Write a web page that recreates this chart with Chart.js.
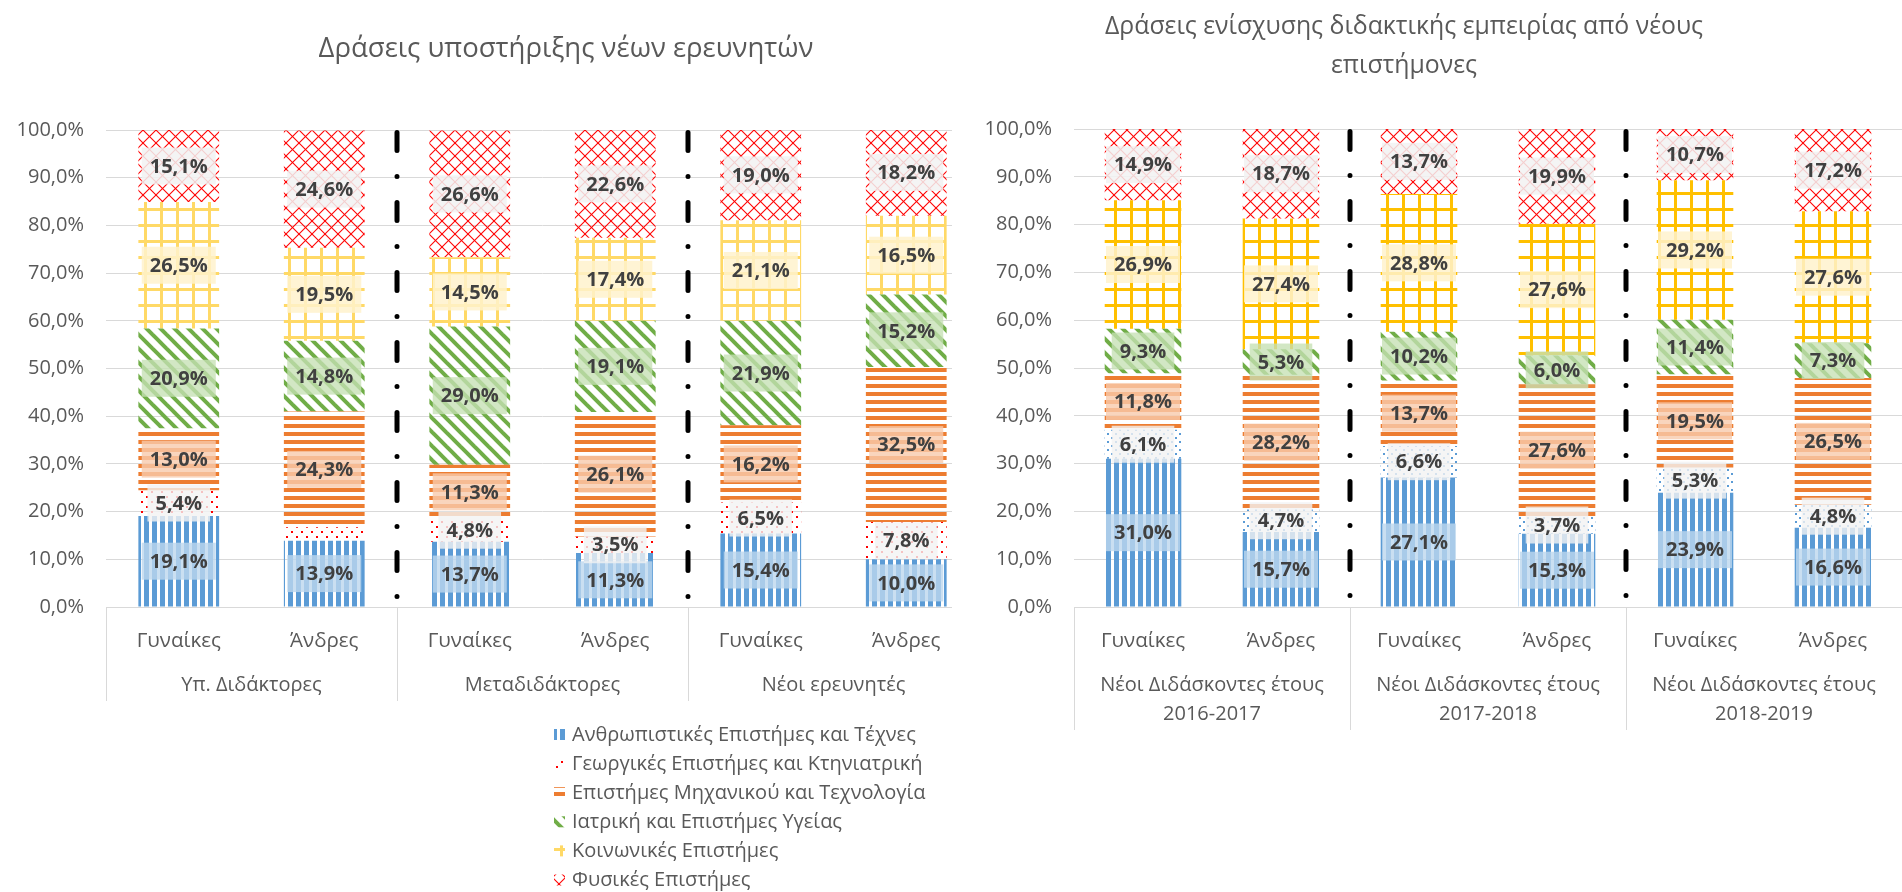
<!DOCTYPE html>
<html>
<head>
<meta charset="utf-8">
<script src="https://cdn.jsdelivr.net/npm/chart.js@4.4.1/dist/chart.umd.min.js"></script>
<style>
  html, body { margin: 0; padding: 0; background: #fff; }
  #wrap { position: relative; width: 1902px; height: 892px; overflow: hidden; background: #fff; }
  #left { position: absolute; left: 0; top: 0; }
  #right { position: absolute; left: 906px; top: 0; z-index: 1; }
</style>
</head>
<body>
<div id="wrap">
  <canvas id="left" width="1132" height="892"></canvas>
  <canvas id="right" width="996" height="892"></canvas>
</div>
<script>
const SERIES = [
  'Ανθρωπιστικές Επιστήμες και Τέχνες',
  'Γεωργικές Επιστήμες και Κτηνιατρική',
  'Επιστήμες Μηχανικού και Τεχνολογία',
  'Ιατρική και Επιστήμες Υγείας',
  'Κοινωνικές Επιστήμες',
  'Φυσικές Επιστήμες',
]
const GENDERS = ['Γυναίκες', 'Άνδρες', 'Γυναίκες', 'Άνδρες', 'Γυναίκες', 'Άνδρες']

const LEFT_TITLE = 'Δράσεις υποστήριξης νέων ερευνητών'
const LEFT_GROUPS = [['Υπ. Διδάκτορες'], ['Μεταδιδάκτορες'], ['Νέοι ερευνητές']]
const LEFT_HUM = [19.1, 13.9, 13.7, 11.3, 15.4, 10.0]
const LEFT_AGR = [5.4, 2.8, 4.8, 3.5, 6.5, 7.8]
const LEFT_ENG = [13.0, 24.3, 11.3, 26.1, 16.2, 32.5]
const LEFT_MED = [20.9, 14.8, 29.0, 19.1, 21.9, 15.2]
const LEFT_SOC = [26.5, 19.5, 14.5, 17.4, 21.1, 16.5]
const LEFT_NAT = [15.1, 24.6, 26.6, 22.6, 19.0, 18.2]

const RIGHT_TITLE = ['Δράσεις ενίσχυσης διδακτικής εμπειρίας από νέους', 'επιστήμονες']
const RIGHT_GROUPS = [
  ['Νέοι Διδάσκοντες έτους', '2016-2017'],
  ['Νέοι Διδάσκοντες έτους', '2017-2018'],
  ['Νέοι Διδάσκοντες έτους', '2018-2019'],
]
const RIGHT_HUM = [31.0, 15.7, 27.1, 15.3, 23.9, 16.6]
const RIGHT_AGR = [6.1, 4.7, 6.6, 3.7, 5.3, 4.8]
const RIGHT_ENG = [11.8, 28.2, 13.7, 27.6, 19.5, 26.5]
const RIGHT_MED = [9.3, 5.3, 10.2, 6.0, 11.4, 7.3]
const RIGHT_SOC = [26.9, 27.4, 28.8, 27.6, 29.2, 27.6]
const RIGHT_NAT = [14.9, 18.7, 13.7, 19.9, 10.7, 17.2]

const FONT = "'Open Sans', 'Noto Sans', sans-serif"
const TEXT = '#595959'
const LABEL_TEXT = '#404040'
const GRID = '#D9D9D9'

const BLUE = '#5B9BD5'
const RED = '#FF0000'
const ORANGE = '#ED7D31'
const GREEN = '#70AD47'

// label boxes behind the values, one tint per series
const BOXES = [
  'rgba(189, 215, 238, 0.8)',
  'rgba(242, 242, 242, 0.8)',
  'rgba(248, 203, 173, 0.8)',
  'rgba(197, 224, 180, 0.78)',
  'rgba(255, 242, 204, 0.85)',
  'rgba(242, 242, 242, 0.85)',
]

Chart.defaults.font.family = FONT
Chart.defaults.color = TEXT

function tile(w, h, draw) {
  const c = document.createElement('canvas')
  c.width = w
  c.height = h
  draw(c.getContext('2d'), w, h)
  return c
}

const tiles = {
  vert: (color) => tile(8, 8, (g) => { g.fillStyle = color; g.fillRect(0, 0, 5, 8) }),
  horiz: (color) => tile(8, 8, (g) => { g.fillStyle = color; g.fillRect(0, 0, 8, 4) }),
  dots: (color, n) => tile(n, n, (g) => {
    g.fillStyle = color
    g.fillRect(1, 1, 2, 2)
    g.fillRect(1 + n / 2, 1 + n / 2, 2, 2)
  }),
  diag: (color) => tile(14, 14, (g) => {
    g.strokeStyle = color
    g.lineWidth = 4
    for (const dx of [-14, 0, 14]) {
      g.beginPath(); g.moveTo(dx - 2, -2); g.lineTo(dx + 16, 16); g.stroke()
    }
  }),
  grid: (color) => tile(16, 16, (g) => {
    g.fillStyle = color
    g.fillRect(0, 0, 16, 3)
    g.fillRect(0, 0, 3, 16)
  }),
  diamond: (color) => tile(13, 13, (g) => {
    g.strokeStyle = color
    g.lineWidth = 1.1
    for (const dx of [-13, 0, 13]) {
      g.beginPath(); g.moveTo(dx, 0); g.lineTo(dx + 13, 13); g.stroke()
      g.beginPath(); g.moveTo(dx + 13, 0); g.lineTo(dx, 13); g.stroke()
    }
  }),
}

function fmt(v) {
  return v.toFixed(1).replace('.', ',') + '%'
}

const valueLabels = {
  id: 'valueLabels',
  afterDatasetsDraw(chart, args, opts) {
    const ctx = chart.ctx
    ctx.save()
    ctx.font = `bold ${opts.size}px ${FONT}`
    ctx.textAlign = 'center'
    ctx.textBaseline = 'middle'
    chart.data.datasets.forEach((ds, i) => {
      chart.getDatasetMeta(i).data.forEach((bar, j) => {
        const v = ds.data[j]
        if (v < opts.minValue) return
        const { x, y, base } = bar.getProps(['x', 'y', 'base'], true)
        const cy = (y + base) / 2
        const text = fmt(v)
        const w = ctx.measureText(text).width + 16
        ctx.fillStyle = ds.labelBox
        ctx.fillRect(x - w / 2, cy - 18.5, w, 37)
        ctx.fillStyle = LABEL_TEXT
        ctx.fillText(text, x, cy + 1)
      })
    })
    ctx.restore()
  },
}

// dash-dot separators between the groups, inside the plot
const groupSeparators = {
  id: 'groupSeparators',
  afterDatasetsDraw(chart) {
    const x = chart.scales.x
    const area = chart.chartArea
    const ctx = chart.ctx
    const half = (x.getPixelForValue(1) - x.getPixelForValue(0)) / 2
    ctx.save()
    ctx.strokeStyle = '#000'
    ctx.lineWidth = 5
    ctx.lineCap = 'round'
    ctx.setLineDash([18, 26, 0, 26])
    for (let i = 2; i < chart.data.labels.length; i += 2) {
      const px = x.getPixelForValue(i) - half
      ctx.beginPath()
      ctx.moveTo(px, area.top + 2.5)
      ctx.lineTo(px, area.bottom)
      ctx.stroke()
    }
    ctx.restore()
  },
}

// second level of the category axis: group names in boxes
const groupAxis = {
  id: 'groupAxis',
  afterDraw(chart, args, opts) {
    const x = chart.scales.x
    const area = chart.chartArea
    const ctx = chart.ctx
    const half = (x.getPixelForValue(1) - x.getPixelForValue(0)) / 2
    ctx.save()
    ctx.strokeStyle = GRID
    ctx.lineWidth = 1
    ctx.font = `${opts.size}px ${FONT}`
    ctx.fillStyle = TEXT
    ctx.textAlign = 'center'
    ctx.textBaseline = 'middle'
    opts.groups.forEach((lines, g) => {
      const l = x.getPixelForValue(2 * g) - half
      const r = x.getPixelForValue(2 * g + 1) + half
      for (const px of [l, r]) {
        ctx.beginPath()
        ctx.moveTo(Math.round(px) + 0.5, area.bottom)
        ctx.lineTo(Math.round(px) + 0.5, opts.bottom)
        ctx.stroke()
      }
      lines.forEach((t, k) => ctx.fillText(t, (l + r) / 2, opts.top + k * opts.step))
    })
    ctx.restore()
  },
}

const sideLegend = {
  id: 'sideLegend',
  afterDraw(chart, args, opts) {
    if (!opts.show) return
    const ctx = chart.ctx
    ctx.save()
    ctx.font = `${opts.size}px ${FONT}`
    ctx.textBaseline = 'middle'
    chart.data.datasets.forEach((ds, i) => {
      const y = opts.top + i * opts.step
      ctx.fillStyle = ds.backgroundColor
      ctx.fillRect(opts.left, y - 6, 11, 11)
      ctx.fillStyle = TEXT
      ctx.fillText(ds.label, opts.left + 18, y)
    })
    ctx.restore()
  },
}

const whiteFrom = {
  id: 'whiteFrom',
  beforeDraw(chart, args, opts) {
    if (opts.x == null) return
    const ctx = chart.ctx
    ctx.save()
    ctx.fillStyle = '#fff'
    ctx.fillRect(opts.x, 0, chart.width - opts.x, chart.height)
    ctx.restore()
  },
}

function makeChart(canvas, cfg) {
  const ctx = canvas.getContext('2d')
  const pat = (c) => ctx.createPattern(c, 'repeat')
  const fills = [
    pat(tiles.vert(BLUE)),
    pat(cfg.agrTile),
    pat(tiles.horiz(ORANGE)),
    pat(tiles.diag(GREEN)),
    pat(tiles.grid(cfg.socColor)),
    pat(tiles.diamond(RED)),
  ]
  const series = [cfg.hum, cfg.agr, cfg.eng, cfg.med, cfg.soc, cfg.nat]
  return new Chart(canvas, {
    type: 'bar',
    data: {
      labels: GENDERS,
      datasets: series.map((data, i) => ({
        label: SERIES[i],
        data,
        backgroundColor: fills[i],
        borderWidth: 0,
        labelBox: BOXES[i],
        categoryPercentage: 1,
        barPercentage: 0.555,
      })),
    },
    options: {
      responsive: false,
      animation: false,
      devicePixelRatio: 1,
      layout: { padding: 0 },
      plugins: {
        legend: { display: false },
        tooltip: { enabled: false },
        title: {
          display: true,
          text: cfg.title,
          color: TEXT,
          font: { size: cfg.titleSize, weight: 'normal', lineHeight: cfg.titleLineHeight },
          padding: cfg.titlePadding,
        },
        valueLabels: { size: 20, minValue: 3 },
        groupAxis: { groups: cfg.groups, size: 20, top: 685, step: 29, bottom: cfg.boxBottom },
        sideLegend: { show: cfg.legend, left: 554, top: 735, step: 29.1, size: 20 },
        whiteFrom: { x: cfg.whiteFrom },
      },
      scales: {
        x: {
          stacked: true,
          grid: { display: false },
          border: { display: true, color: GRID },
          ticks: { color: TEXT, font: { size: 20.5 }, padding: 14, maxRotation: 0, autoSkip: false },
          afterFit: (s) => { s.height = 285 },
        },
        y: {
          stacked: true,
          min: 0,
          max: 100,
          grid: { color: GRID, drawTicks: false },
          border: { display: false },
          ticks: { stepSize: 10, color: TEXT, font: { size: 20 }, padding: 22, callback: (v) => fmt(v) },
          afterFit: (s) => { s.width = cfg.axisWidth },
        },
        // empty right-hand strip so the plot stops short of the canvas edge
        gap: {
          type: 'linear',
          position: 'right',
          display: cfg.rightGap > 0,
          grid: { display: false },
          border: { display: false },
          ticks: { display: false },
          afterFit: (s) => { s.width = cfg.rightGap },
        },
      },
    },
    plugins: [whiteFrom, groupSeparators, valueLabels, groupAxis, sideLegend],
  })
}

makeChart(document.getElementById('left'), {
  title: LEFT_TITLE,
  titleSize: 27.5,
  titleLineHeight: 1.2,
  titlePadding: { top: 33, bottom: 64 },
  groups: LEFT_GROUPS,
  boxBottom: 701,
  rightGap: 153,
  axisWidth: 106,
  legend: true,
  whiteFrom: null,
  agrTile: tiles.dots(RED, 10),
  socColor: '#FFD966',
  hum: LEFT_HUM, agr: LEFT_AGR, eng: LEFT_ENG, med: LEFT_MED, soc: LEFT_SOC, nat: LEFT_NAT,
})

makeChart(document.getElementById('right'), {
  title: RIGHT_TITLE,
  titleSize: 24.8,
  titleLineHeight: 1.573,
  titlePadding: { top: 7.5, bottom: 43.5 },
  groups: RIGHT_GROUPS,
  boxBottom: 730,
  rightGap: 0,
  axisWidth: 168,
  legend: false,
  whiteFrom: 46,
  agrTile: tiles.dots(BLUE, 8),
  socColor: '#FFC000',
  hum: RIGHT_HUM, agr: RIGHT_AGR, eng: RIGHT_ENG, med: RIGHT_MED, soc: RIGHT_SOC, nat: RIGHT_NAT,
})
</script>
</body>
</html>
